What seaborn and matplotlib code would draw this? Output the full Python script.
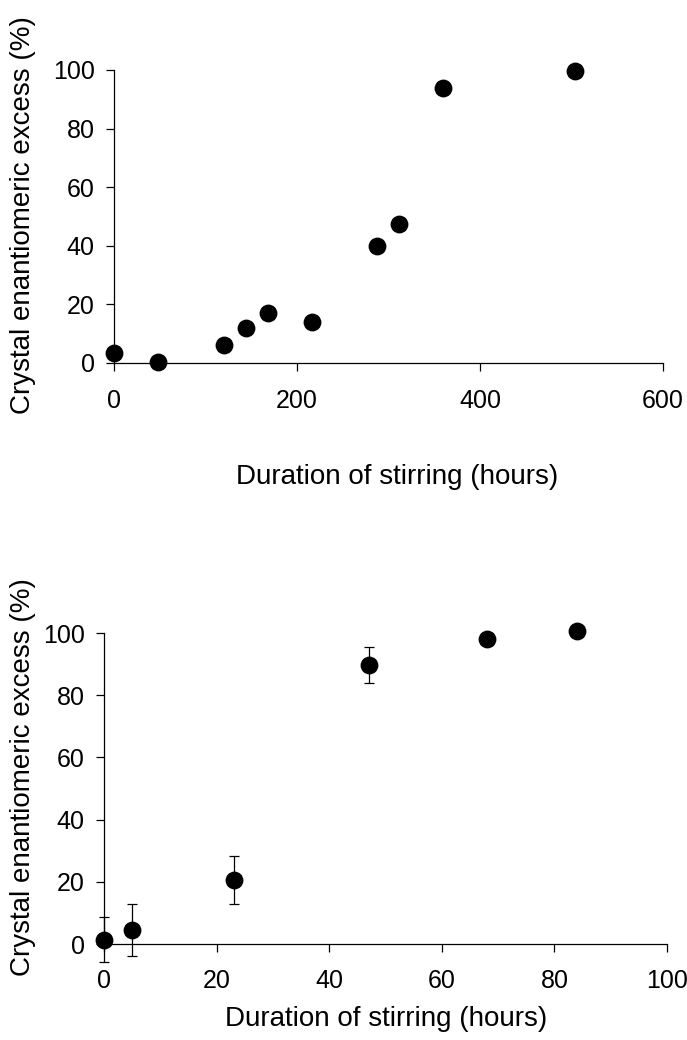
import numpy as np
import pandas as pd
import matplotlib
matplotlib.use("Agg")
import matplotlib.pyplot as plt
import seaborn as sns

# Data
hours_a = [0, 48, 120, 144, 168, 216, 287, 312, 360, 504]
ee_a = [3.5, 0.4, 6.0, 11.8, 17.0, 14.0, 40.0, 47.5, 93.8, 99.7]

hours_b = [0, 5, 23, 47, 68, 84]
ee_b = [1.4, 4.5, 20.7, 89.7, 98.0, 100.6]
err_b = [7.2, 8.3, 7.7, 5.8, 0, 0]

xlabel = "Duration of stirring (hours)"
ylabel = "Crystal enantiomeric excess (%)"

df_a = pd.DataFrame({"hours": hours_a, "ee": ee_a})
df_b = pd.DataFrame({"hours": hours_b, "ee": ee_b, "err": err_b})

sns.set_style("ticks")
plt.rcParams["font.family"] = ["Liberation Sans", "DejaVu Sans"]
plt.rcParams["text.color"] = "black"
plt.rcParams["axes.labelcolor"] = "black"
plt.rcParams["axes.linewidth"] = 0.9
plt.rcParams["xtick.major.size"] = 6
plt.rcParams["ytick.major.size"] = 6
plt.rcParams["xtick.major.width"] = 0.9
plt.rcParams["ytick.major.width"] = 0.9
plt.rcParams["xtick.direction"] = "out"
plt.rcParams["ytick.direction"] = "out"

fig = plt.figure(figsize=(6.87, 10.4), dpi=100)
ax1 = fig.add_axes([0.1659, 0.6510, 0.7991, 0.2817])
ax2 = fig.add_axes([0.1514, 0.0923, 0.8195, 0.2990])

# Panel 1
sns.scatterplot(data=df_a, x="hours", y="ee", ax=ax1, color="black",
                s=165, edgecolor="black", linewidth=0, clip_on=False, zorder=5)
ax1.set_xlim(0, 600)
ax1.set_ylim(0, 100)
ax1.set_xticks([0, 200, 400, 600])
ax1.set_yticks([0, 20, 40, 60, 80, 100])
ax1.tick_params(axis="x", labelsize=18, pad=13)
ax1.tick_params(axis="y", labelsize=18, pad=8)

# Panel 2
ax2.errorbar(df_b["hours"][:4], df_b["ee"][:4], yerr=df_b["err"][:4], fmt="none",
             ecolor="black", elinewidth=0.9, capsize=3.5, capthick=0.9,
             clip_on=False, zorder=3)
sns.scatterplot(data=df_b, x="hours", y="ee", ax=ax2, color="black",
                s=165, edgecolor="black", linewidth=0, clip_on=False, zorder=5)
ax2.set_xlim(0, 100)
ax2.set_ylim(0, 100)
ax2.set_xticks([0, 20, 40, 60, 80, 100])
ax2.set_yticks([0, 20, 40, 60, 80, 100])
ax2.tick_params(axis="x", labelsize=18, pad=12)
ax2.tick_params(axis="y", labelsize=18, pad=8)

for ax, xl, yl in [(ax1, (0.515, -0.389), (-0.166, 0.505)),
                   (ax2, (0.501, -0.241), (-0.144, 0.537))]:
    sns.despine(ax=ax)
    ax.set_xlabel(xlabel, fontsize=20)
    ax.set_ylabel(ylabel, fontsize=20)
    ax.xaxis.set_label_coords(*xl)
    ax.yaxis.set_label_coords(*yl)
    ax.xaxis.label.set_verticalalignment("center")
    ax.yaxis.label.set_verticalalignment("center")
    for sp in ax.spines.values():
        sp.set_color("black")
    ax.tick_params(colors="black")

fig.savefig("out.png", dpi=100)
